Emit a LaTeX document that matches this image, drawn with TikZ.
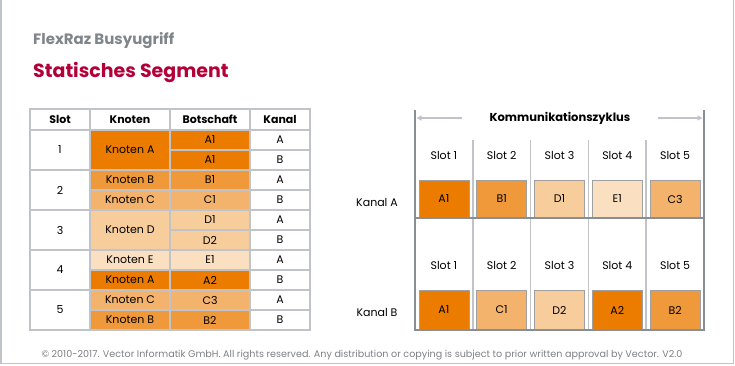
\documentclass[tikz,border=0pt]{standalone}
\usepackage{fontspec}
\setmainfont{Poppins}
\usetikzlibrary{arrows.meta,calc}

\definecolor{ordark}{RGB}{236,124,0}
\definecolor{ormid}{RGB}{240,153,58}
\definecolor{orlight}{RGB}{244,179,108}
\definecolor{orpale}{RGB}{247,205,155}
\definecolor{orfaint}{RGB}{250,223,193}
\definecolor{gridgray}{RGB}{192,196,200}
\definecolor{framegray}{RGB}{136,142,148}
\definecolor{boxgray}{RGB}{160,160,160}
\definecolor{titlegray}{RGB}{128,133,138}
\definecolor{footgray}{RGB}{125,128,132}
\definecolor{vcrimson}{RGB}{180,0,56}

\begin{document}
\begin{tikzpicture}[x=1pt,y=-1pt,
	cell/.style={draw=gridgray,line width=1.5pt,inner sep=0pt,minimum height=20pt,font=\fontsize{11}{13}\selectfont},
	head/.style={cell,minimum height=21pt,font=\bfseries\fontsize{11}{13}\selectfont},
	msgbox/.style={draw=boxgray,line width=0.8pt,inner sep=0pt,minimum width=50pt,font=\fontsize{11}{13}\selectfont},
	lbl/.style={font=\fontsize{11}{13}\selectfont},
	frame/.style={draw=framegray,line width=2.5pt},
	sepline/.style={draw=gridgray,line width=1.5pt},
	cyclearrow/.style={draw=gridgray,line width=1.5pt,-{Triangle[length=5pt,width=5pt]}},
]
\useasboundingbox (0,0) rectangle (735,365);
\draw[gridgray,line width=1.5pt] (0.75,0) -- (0.75,363.5) -- (733.5,363.5) -- (733.5,0);

\node[anchor=base west,text=titlegray,font=\bfseries\fontsize{15}{17}\selectfont,inner sep=0pt] (title) at (33,44) {FlexRaz Busyugriff};
\node[anchor=base west,text=vcrimson,font=\bfseries\fontsize{19}{21}\selectfont,inner sep=0pt] (sub) at (33,77) {Statisches Segment};

% table
\foreach \h/\x/\w [count=\i] in {Slot/60/60, Knoten/130/80, Botschaft/210/80, Kanal/280/60}
	\node[head,minimum width=\w pt] (h\i) at (\x,119.5) {\h};
\foreach \s in {1,...,5}
	\node[cell,minimum width=60pt,minimum height=40pt] (slot\s) at (60,110+40*\s) {\s};
\foreach \k/\c/\y/\hh [count=\i] in {Knoten A/ordark/150/40, Knoten B/ormid/180/20, Knoten C/orlight/200/20, Knoten D/orpale/230/40, Knoten E/orfaint/260/20, Knoten A/ordark/280/20, Knoten C/orlight/300/20, Knoten B/ormid/320/20}
	\node[cell,fill=\c,minimum width=80pt,minimum height=\hh pt] (kn\i) at (130,\y) {\k};
\foreach \m/\c [count=\i] in {A1/ordark, A1/ordark, B1/ormid, C1/orlight, D1/orpale, D2/orpale, E1/orfaint, A2/ordark, C3/orlight, B2/ormid}
	\node[cell,fill=\c,minimum width=80pt] (bo\i) at (210,120+20*\i) {\m};
\foreach \k [count=\i] in {A,B,A,B,A,B,A,B,A,B}
	\node[cell,minimum width=60pt] (ka\i) at (280,120+20*\i) {\k};

% cycle
\coordinate (tl) at (415,110);
\coordinate (tr) at (704,110);
\coordinate (ml) at (415,218);
\coordinate (mr) at (704,218);
\coordinate (bl) at (415,330);
\coordinate (br) at (704,330);
\foreach \i in {1,...,4}
	\draw[sepline] ({415+57.8*\i},140) -- ({415+57.8*\i},330);
\foreach \i in {1,...,5} {
	\node[lbl] (sa\i) at ({415+57.8*\i-28.9},155) {Slot \i};
	\node[lbl] (sb\i) at ({415+57.8*\i-28.9},265) {Slot \i};
}
\foreach \m/\c [count=\i] in {A1/ordark, B1/ormid, D1/orpale, E1/orfaint, C3/orlight}
	\node[msgbox,fill=\c,minimum height=38pt] (ma\i) at ({415+57.8*\i-28.9},199) {\m};
\foreach \m/\c [count=\i] in {A1/ordark, C1/orlight, D2/orpale, A2/ordark, B2/ormid}
	\node[msgbox,fill=\c,minimum height=40pt] (mb\i) at ({415+57.8*\i-28.9},310) {\m};
\draw[frame] (tl) -- (bl) -- (br) -- (tr);
\draw[frame] (ml) -- (mr);

\node[lbl] (kA) at (377,202) {Kanal A};
\node[lbl] (kB) at (377,312) {Kanal B};

\node[font=\bfseries\fontsize{11.5}{13}\selectfont,inner xsep=27pt] (kz) at (560,118) {Kommunikationszyklus};
\coordinate (lbar) at (416.5,118);
\coordinate (rbar) at (702.5,118);
\draw[cyclearrow] (kz.west) -- (lbar);
\draw[cyclearrow] (kz.east) -- (rbar);

\node[anchor=base,text=footgray,font=\fontsize{9.6}{11}\selectfont] (foot) at (362,357.5) {© 2010-2017. Vector Informatik GmbH. All rights reserved. Any distribution or copying is subject to prior written approval by Vector. V2.0};
\end{tikzpicture}
\end{document}
